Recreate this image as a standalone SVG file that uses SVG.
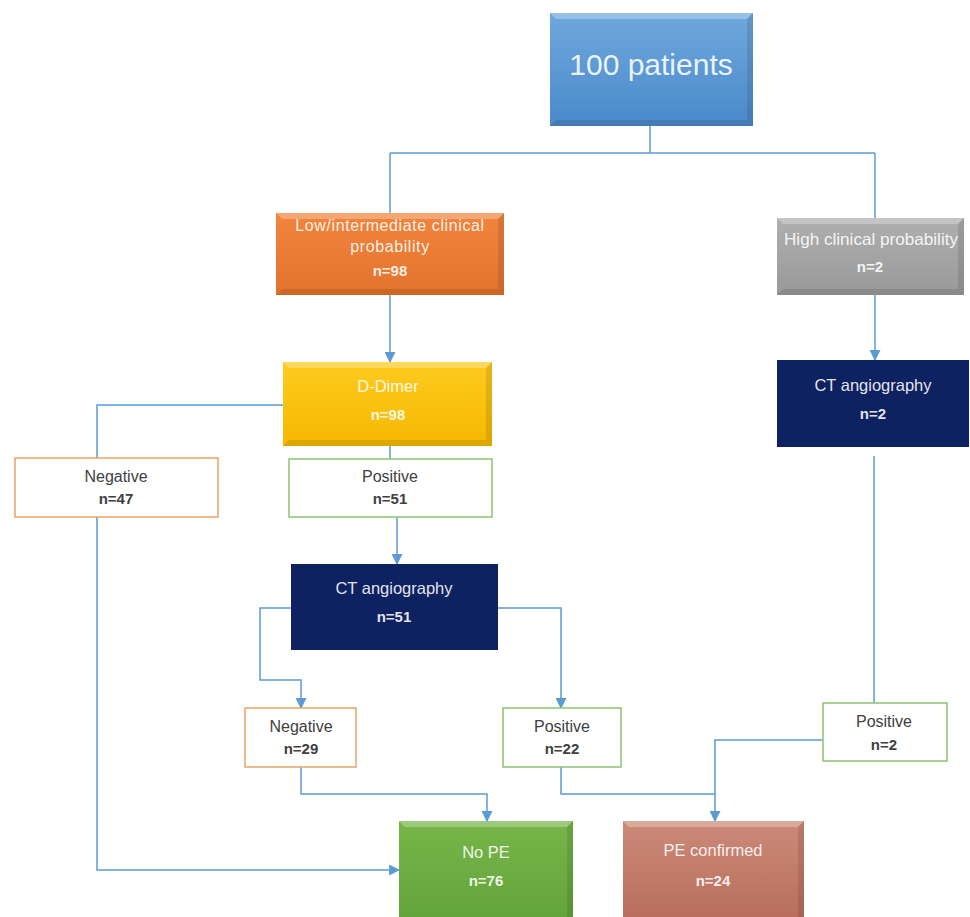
<svg xmlns="http://www.w3.org/2000/svg" width="970" height="917" viewBox="0 0 970 917">
<style>
  .t { font-family: "Liberation Sans", Arial, sans-serif; text-anchor: middle; }
  .w { fill: #ffffff; fill-opacity: 0.9; }
  .d { fill: #404040; }
  .b { font-weight: bold; }
  .c { fill: none; stroke: #5B9BD5; stroke-width: 1.5; }
  .hl { fill: #ffffff; fill-opacity: 0.28; }
  .sh { fill: #000000; fill-opacity: 0.1; }
</style>
<defs>
  <marker id="arr" viewBox="0 0 10 10" refX="9" refY="5" markerWidth="11" markerHeight="11" markerUnits="userSpaceOnUse" orient="auto">
    <path d="M0,0 L10,5 L0,10 z" fill="#5B9BD5"/>
  </marker>
  <linearGradient id="gBlue" x1="0" y1="0" x2="0" y2="1"><stop offset="0" stop-color="#6FA8DC"/><stop offset="1" stop-color="#4A8ACB"/></linearGradient>
  <linearGradient id="gOrange" x1="0" y1="0" x2="0" y2="1"><stop offset="0" stop-color="#F2853E"/><stop offset="1" stop-color="#E2732C"/></linearGradient>
  <linearGradient id="gGray" x1="0" y1="0" x2="0" y2="1"><stop offset="0" stop-color="#AFAFAF"/><stop offset="1" stop-color="#999999"/></linearGradient>
  <linearGradient id="gYellow" x1="0" y1="0" x2="0" y2="1"><stop offset="0" stop-color="#FFCB1F"/><stop offset="1" stop-color="#F5B800"/></linearGradient>
  <linearGradient id="gGreen" x1="0" y1="0" x2="0" y2="1"><stop offset="0" stop-color="#78B64A"/><stop offset="1" stop-color="#62A33A"/></linearGradient>
  <linearGradient id="gSalmon" x1="0" y1="0" x2="0" y2="1"><stop offset="0" stop-color="#CC8A78"/><stop offset="1" stop-color="#B86E5C"/></linearGradient>
</defs>

<g id="connectors">
  <polyline class="c" points="650,126 650,153"/>
  <polyline class="c" points="390,153 875,153"/>
  <polyline class="c" points="390,153 390,213"/>
  <polyline class="c" points="875,153 875,218"/>
  <polyline class="c" points="390,295 390,362" marker-end="url(#arr)"/>
  <polyline class="c" points="875,295 875,360" marker-end="url(#arr)"/>
  <polyline class="c" points="390,446 390,459"/>
  <polyline class="c" points="283,405 97,405 97,458"/>
  <polyline class="c" points="97,517 97,870 399,870" marker-end="url(#arr)"/>
  <polyline class="c" points="397,517 397,564" marker-end="url(#arr)"/>
  <polyline class="c" points="291,608 260,608 260,680 301,680 301,708" marker-end="url(#arr)"/>
  <polyline class="c" points="498,608 561,608 561,708" marker-end="url(#arr)"/>
  <polyline class="c" points="301,767 301,794 487,794 487,821" marker-end="url(#arr)"/>
  <polyline class="c" points="561,767 561,794 715,794"/>
  <polyline class="c" points="823,740 715,740 715,821" marker-end="url(#arr)"/>
  <polyline class="c" points="874,456 874,703"/>
</g>

<g id="n100">
  <rect x="550" y="13" width="203" height="113" fill="url(#gBlue)"/>
  <polygon class="hl" points="550,13 753,13 747,19 556,19"/>
  <polygon class="sh" points="753,13 753,126 747,120 747,19"/>
  <polygon class="sh" points="550,126 753,126 747,120 556,120"/>
  <text class="t w" x="651" y="75" font-size="30">100 patients</text>
</g>

<g id="nLow">
  <rect x="276" y="213" width="228" height="82" fill="url(#gOrange)"/>
  <polygon class="hl" points="276,213 504,213 498,219 282,219"/>
  <polygon class="sh" points="504,213 504,295 498,289 498,219"/>
  <polygon class="sh" points="276,295 504,295 498,289 282,289"/>
  <text class="t w" x="390" y="231" font-size="16" letter-spacing="0.6">Low/intermediate clinical</text>
  <text class="t w" x="390" y="252" font-size="16" letter-spacing="0.6">probability</text>
  <text class="t w b" x="390" y="276" font-size="15">n=98</text>
</g>

<g id="nHigh">
  <rect x="777" y="218" width="187" height="77" fill="url(#gGray)"/>
  <polygon class="hl" points="777,218 964,218 958,224 783,224"/>
  <polygon class="sh" points="964,218 964,295 958,289 958,224"/>
  <polygon class="sh" points="777,295 964,295 958,289 783,289"/>
  <text class="t w" x="871" y="245" font-size="16.5" textLength="174" lengthAdjust="spacingAndGlyphs">High clinical probability</text>
  <text class="t w b" x="870" y="272" font-size="15">n=2</text>
</g>

<g id="nDDimer">
  <rect x="283" y="362" width="209" height="84" fill="url(#gYellow)"/>
  <polygon class="hl" points="283,362 492,362 486,368 289,368"/>
  <polygon class="sh" points="492,362 492,446 486,440 486,368"/>
  <polygon class="sh" points="283,446 492,446 486,440 289,440"/>
  <text class="t w" x="388" y="392" font-size="16.5">D-Dimer</text>
  <text class="t w b" x="388" y="420" font-size="15">n=98</text>
</g>

<g id="nCT2">
  <rect x="777" y="360" width="192" height="87" fill="#0E2160"/>
  <text class="t w" x="873" y="391" font-size="16.5">CT angiography</text>
  <text class="t w b" x="873" y="419" font-size="15">n=2</text>
</g>

<g id="nNeg47">
  <rect x="15" y="458" width="203" height="59" fill="#ffffff" stroke="#E9A464" stroke-width="1.5"/>
  <text class="t d" x="116" y="482" font-size="16">Negative</text>
  <text class="t d b" x="116" y="504" font-size="15">n=47</text>
</g>

<g id="nPos51">
  <rect x="289" y="459" width="203" height="58" fill="#ffffff" stroke="#8DC26F" stroke-width="1.5"/>
  <text class="t d" x="390" y="482" font-size="16">Positive</text>
  <text class="t d b" x="390" y="504" font-size="15">n=51</text>
</g>

<g id="nCT51">
  <rect x="291" y="564" width="207" height="86" fill="#0E2160"/>
  <text class="t w" x="394" y="594" font-size="16.5">CT angiography</text>
  <text class="t w b" x="394" y="622" font-size="15">n=51</text>
</g>

<g id="nNeg29">
  <rect x="245" y="708" width="111" height="59" fill="#ffffff" stroke="#E9A464" stroke-width="1.5"/>
  <text class="t d" x="301" y="732" font-size="16">Negative</text>
  <text class="t d b" x="301" y="754" font-size="15">n=29</text>
</g>

<g id="nPos22">
  <rect x="503" y="708" width="118" height="59" fill="#ffffff" stroke="#8DC26F" stroke-width="1.5"/>
  <text class="t d" x="562" y="732" font-size="16">Positive</text>
  <text class="t d b" x="562" y="754" font-size="15">n=22</text>
</g>

<g id="nPos2">
  <rect x="823" y="703" width="124" height="58" fill="#ffffff" stroke="#8DC26F" stroke-width="1.5"/>
  <text class="t d" x="884" y="727" font-size="16">Positive</text>
  <text class="t d b" x="884" y="750" font-size="15">n=2</text>
</g>

<g id="nNoPE">
  <rect x="399" y="821" width="174" height="100" fill="url(#gGreen)"/>
  <polygon class="hl" points="399,821 573,821 567,827 405,827"/>
  <polygon class="sh" points="573,821 573,921 567,921 567,827"/>
  <text class="t w" x="486" y="858" font-size="16.5">No PE</text>
  <text class="t w b" x="486" y="886" font-size="15">n=76</text>
</g>

<g id="nPE">
  <rect x="623" y="821" width="181" height="100" fill="url(#gSalmon)"/>
  <polygon class="hl" points="623,821 804,821 798,827 629,827"/>
  <polygon class="sh" points="804,821 804,921 798,921 798,827"/>
  <text class="t w" x="713" y="856" font-size="16.5">PE confirmed</text>
  <text class="t w b" x="713" y="886" font-size="15">n=24</text>
</g>
</svg>
